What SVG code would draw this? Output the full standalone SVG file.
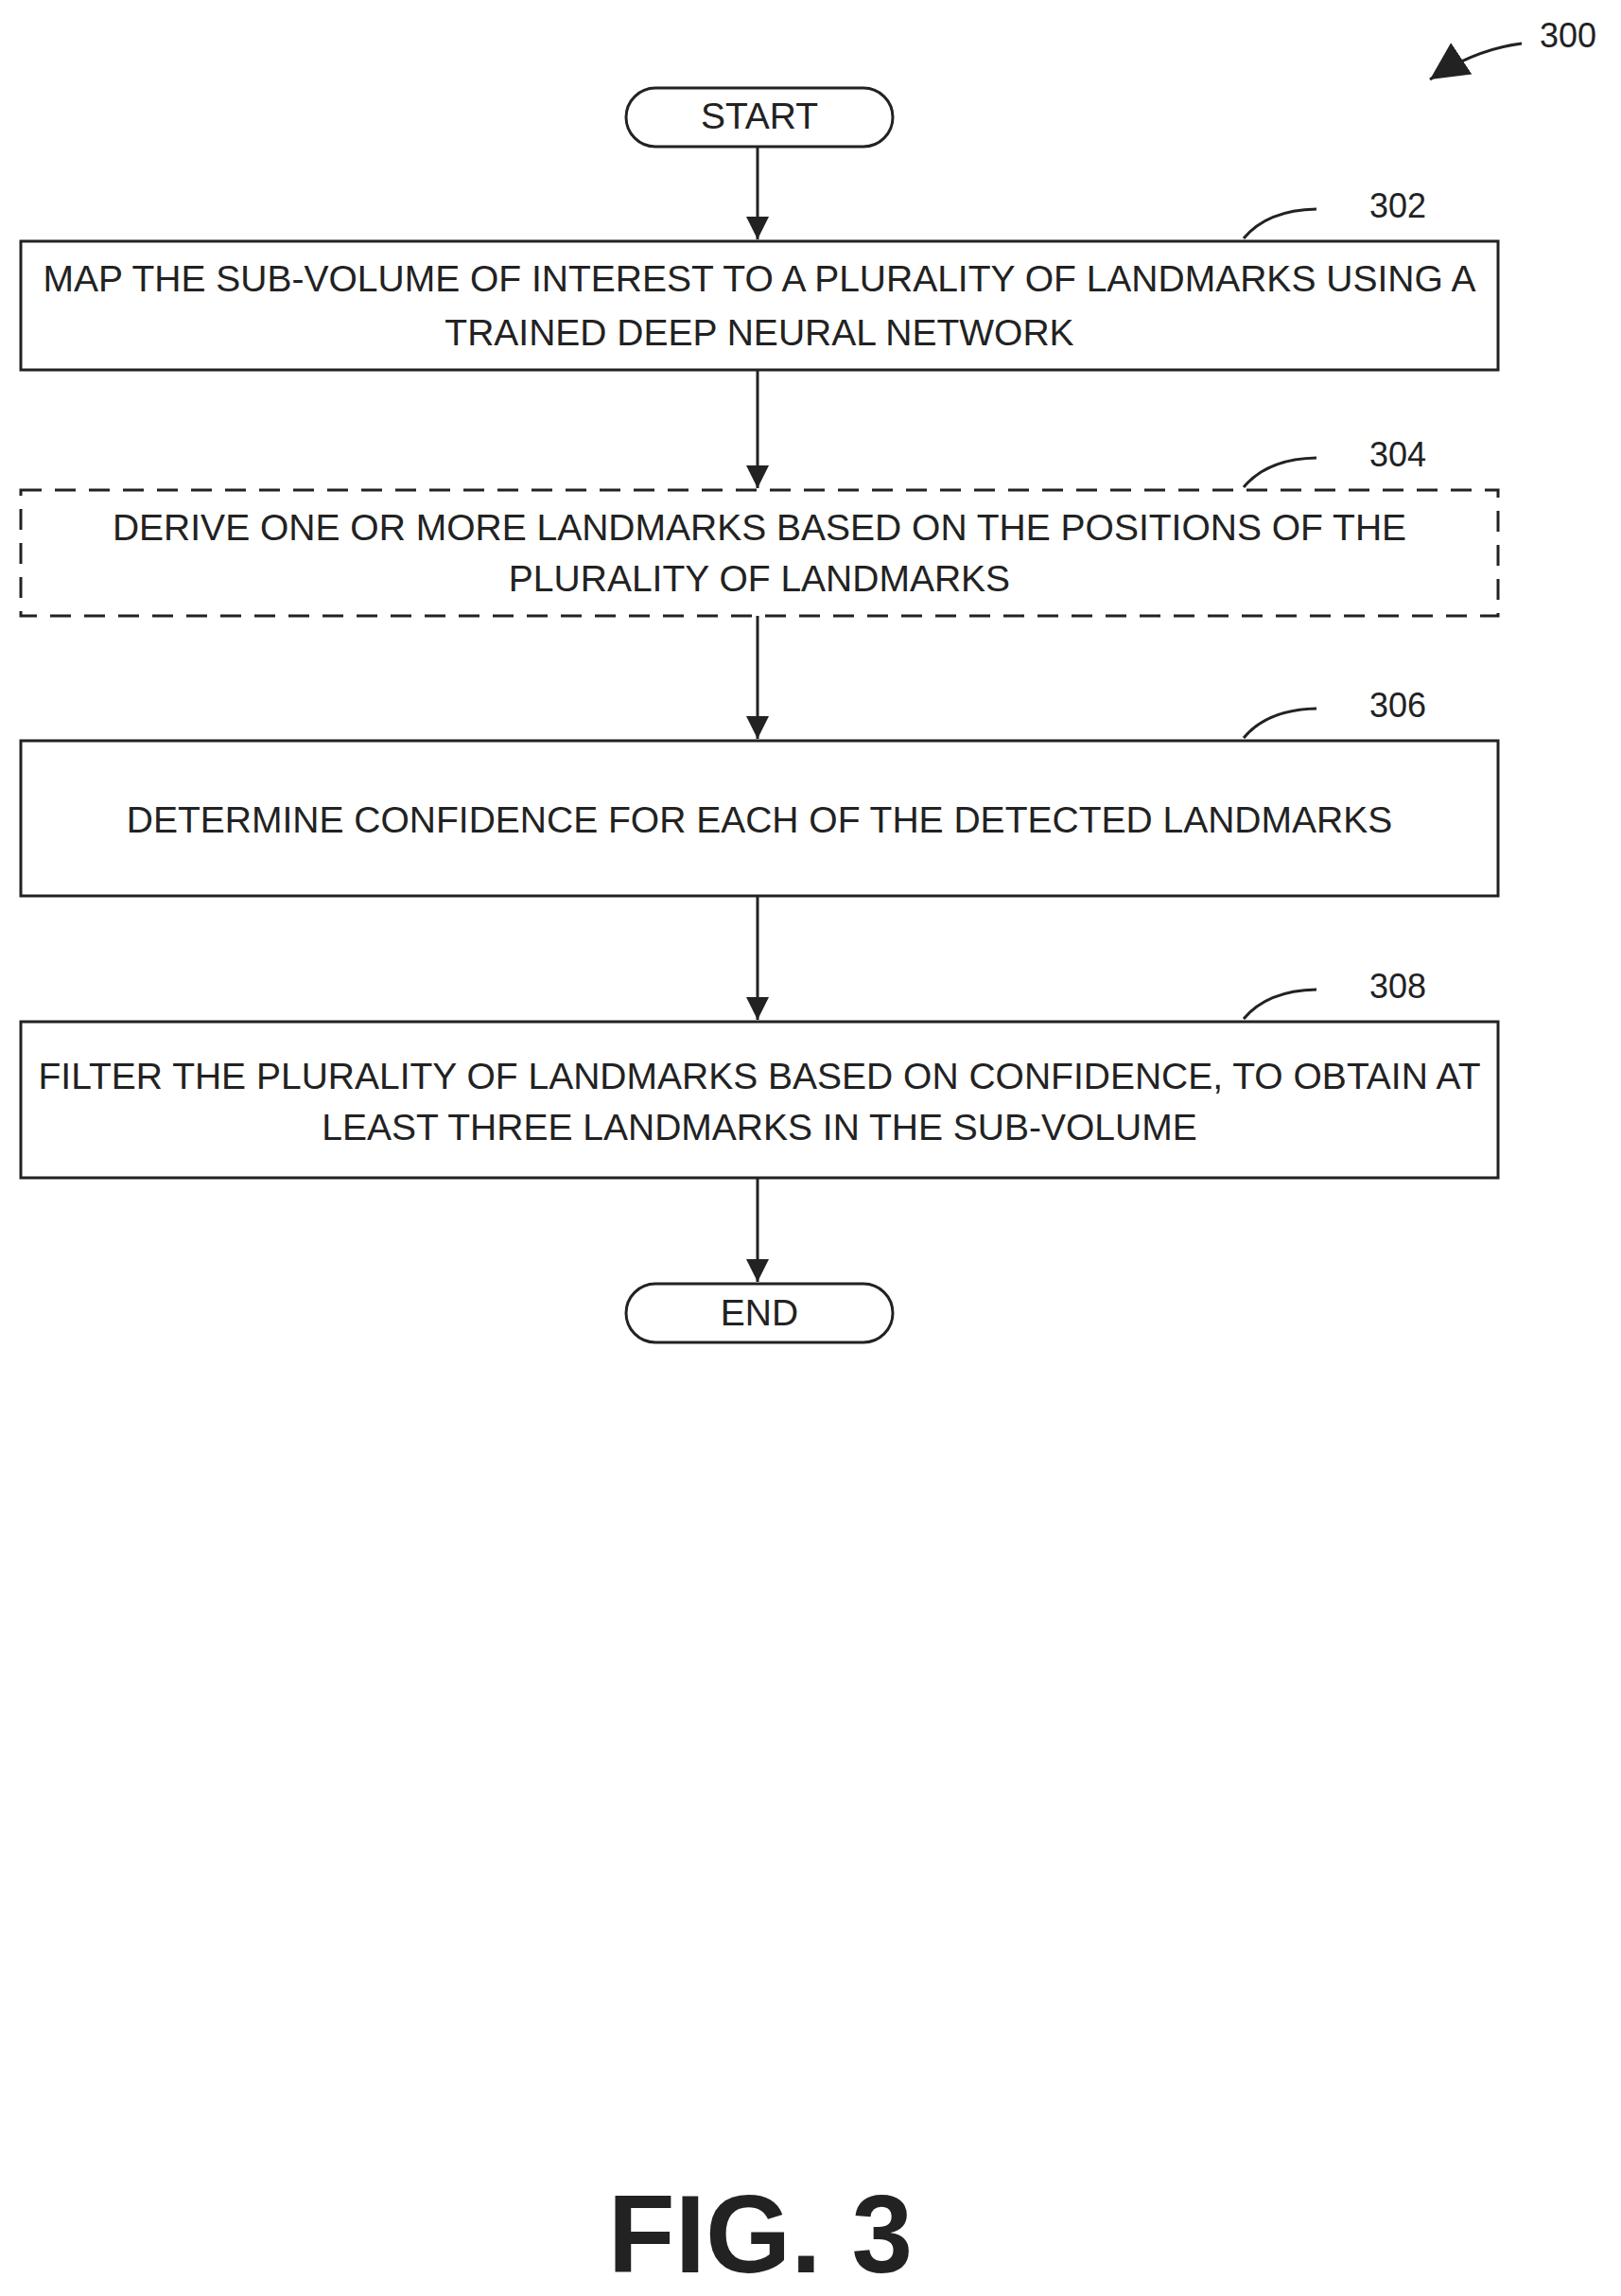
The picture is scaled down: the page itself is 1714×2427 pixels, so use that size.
<svg xmlns="http://www.w3.org/2000/svg" width="1714" height="2427" viewBox="0 0 1714 2427">
<style>
.b{fill:#fff;stroke:#222;stroke-width:3}
.d{fill:#fff;stroke:#222;stroke-width:3;stroke-dasharray:22,14}
.t{font-family:"Liberation Sans",Arial,sans-serif;font-size:39px;fill:#222;text-anchor:middle}
.l{font-family:"Liberation Sans",Arial,sans-serif;font-size:36px;fill:#222}
.c{fill:none;stroke:#222;stroke-width:3}
</style>
<defs><marker id="ah" viewBox="0 0 10 10" refX="10" refY="5" markerWidth="24" markerHeight="24" orient="auto" markerUnits="userSpaceOnUse"><path d="M0,0L10,5L0,10z" fill="#222"/></marker>
<marker id="big" viewBox="0 0 10 10" refX="10" refY="5" markerWidth="40" markerHeight="40" orient="auto" markerUnits="userSpaceOnUse"><path d="M0,0L10,5L0,10z" fill="#222"/></marker></defs>
<g id="connectors">
<line class="c" x1="801" y1="155" x2="801" y2="253" marker-end="url(#ah)"/>
<line class="c" x1="801" y1="391" x2="801" y2="516" marker-end="url(#ah)"/>
<line class="c" x1="801" y1="651" x2="801" y2="781" marker-end="url(#ah)"/>
<line class="c" x1="801" y1="947" x2="801" y2="1078" marker-end="url(#ah)"/>
<line class="c" x1="801" y1="1245" x2="801" y2="1355" marker-end="url(#ah)"/>
</g>
<g id="start"><rect class="b" x="662" y="93" width="282" height="62" rx="31"/><text class="t" x="803" y="136">START</text></g>
<g id="n302"><rect class="b" x="22" y="255" width="1562" height="136"/><text class="t" x="803" y="308">MAP THE SUB-VOLUME OF INTEREST TO A PLURALITY OF LANDMARKS USING A</text><text class="t" x="803" y="365">TRAINED DEEP NEURAL NETWORK</text>
<path class="c" d="M1315,252 Q1340,222 1392,221"/><text class="l" x="1448" y="230">302</text></g>
<g id="n304"><rect class="d" x="22" y="518" width="1562" height="133"/><text class="t" x="803" y="571">DERIVE ONE OR MORE LANDMARKS BASED ON THE POSITIONS OF THE</text><text class="t" x="803" y="625">PLURALITY OF LANDMARKS</text>
<path class="c" d="M1315,515 Q1340,485 1392,484"/><text class="l" x="1448" y="493">304</text></g>
<g id="n306"><rect class="b" x="22" y="783" width="1562" height="164"/><text class="t" x="803" y="880">DETERMINE CONFIDENCE FOR EACH OF THE DETECTED LANDMARKS</text>
<path class="c" d="M1315,780 Q1340,750 1392,749"/><text class="l" x="1448" y="758">306</text></g>
<g id="n308"><rect class="b" x="22" y="1080" width="1562" height="165"/><text class="t" x="803" y="1151">FILTER THE PLURALITY OF LANDMARKS BASED ON CONFIDENCE, TO OBTAIN AT</text><text class="t" x="803" y="1205">LEAST THREE LANDMARKS IN THE SUB-VOLUME</text>
<path class="c" d="M1315,1077 Q1340,1047 1392,1046"/><text class="l" x="1448" y="1055">308</text></g>
<g id="end"><rect class="b" x="662" y="1357" width="282" height="62" rx="31"/><text class="t" x="803" y="1401">END</text></g>
<g id="ref300"><path class="c" d="M1609,46 Q1560,52 1512,84" marker-end="url(#big)"/><text class="l" x="1628" y="50">300</text></g>
<text x="804" y="2402" style="font-family:'Liberation Sans',Arial,sans-serif;font-size:116px;font-weight:bold;fill:#222;text-anchor:middle">FIG. 3</text>
</svg>
